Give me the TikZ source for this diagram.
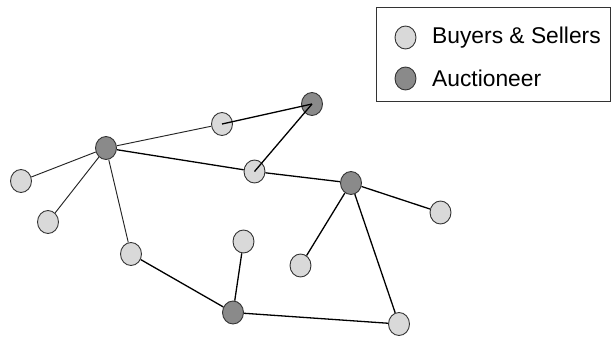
\documentclass[tikz,border=0pt]{standalone}
\usepackage{fontspec}
\setmainfont{Liberation Sans}
\usetikzlibrary{shapes.geometric,backgrounds}
\definecolor{lightnode}{HTML}{D9D9D9}
\definecolor{darknode}{HTML}{8A8A8A}
\definecolor{rim}{HTML}{333333}
\tikzset{
  party/.style={ellipse,draw=rim,line width=0.9pt,fill=lightnode,
    minimum width=21pt,minimum height=23pt,inner sep=0pt},
  auct/.style={party,fill=darknode},
  thinlink/.style={draw=black!85,line width=0.95pt},
  thicklink/.style={draw=black,line width=1.3pt},
  legendtext/.style={anchor=west,font=\fontsize{22.8}{24}\selectfont,inner sep=0pt}
}
\begin{document}
\begin{tikzpicture}[x=1pt,y=-1pt]
\useasboundingbox (0,0) rectangle (611,338);
% legend
\draw[line width=0.9pt,draw=rim] (376,7.5) rectangle (610.5,101.5);
\node[party] (lgb) at (405.5,37.5) {};
\node[auct] (lga) at (405.5,78.5) {};
\node[legendtext] (lgbt) at (432,37.5) {Buyers \& Sellers};
\node[legendtext] (lgat) at (432,78.5) {Auctioneer};
% network nodes
\node[auct]  (h1) at (106,148) {};
\node[auct]  (h2) at (312,104) {};
\node[auct]  (h3) at (351,183) {};
\node[auct]  (h4) at (233,312.5) {};
\node[party] (p1) at (222,124) {};
\node[party] (p2) at (254.5,171.5) {};
\node[party] (p3) at (21,181) {};
\node[party] (p4) at (48,222) {};
\node[party] (p5) at (131,254) {};
\node[party] (p6) at (243.5,241.5) {};
\node[party] (p7) at (300.5,265.5) {};
\node[party] (p8) at (440.5,212.5) {};
\node[party] (p9) at (399,324) {};
% links between nodes
\begin{pgfonlayer}{background}
\draw[thinlink] (h1) -- (p1);
\draw[thinlink] (h1) -- (p3);
\draw[thinlink] (h1) -- (p4);
\draw[thinlink] (h1) -- (p5);
\draw[thicklink] (h1) -- (p2);
\draw[thicklink] (p2) -- (h3);
\draw[thicklink] (h3) -- (p8);
\draw[thicklink] (h3) -- (p7);
\draw[thicklink] (h3) -- (p9);
\draw[thicklink] (p5) -- (h4);
\draw[thicklink] (p6) -- (h4);
\draw[thicklink] (h4) -- (p9);
\end{pgfonlayer}
% bids running to the upper auctioneer
\draw[thicklink] (p1.center) -- (h2.center);
\draw[thicklink] (p2.center) -- (h2.center);
\end{tikzpicture}
\end{document}
